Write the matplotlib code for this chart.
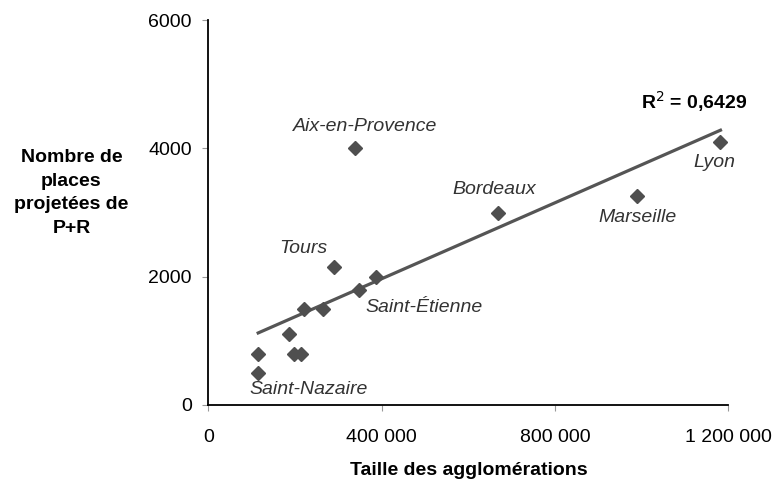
import numpy as np
import matplotlib
matplotlib.use('Agg')
import matplotlib.pyplot as plt
from matplotlib.ticker import FuncFormatter

plt.rcParams['font.family'] = ['Liberation Sans', 'DejaVu Sans']

# taille des agglomérations et places P+R projetées
agglo = [338000, 669000, 990000, 1182000, 290000, 388000, 347000, 265000,
         221000, 187000, 115000, 198000, 214000, 115000]
places = [4000, 3000, 3250, 4100, 2150, 2000, 1800, 1500,
          1500, 1100, 800, 800, 800, 500]

noms = ['Aix-en-Provence', 'Bordeaux', 'Marseille', 'Lyon', 'Tours',
        'Saint-Étienne', 'Saint-Nazaire']
noms_idx = [0, 1, 2, 3, 4, 6, 13]
# décalage des étiquettes (en unités des axes)
noms_dx = [25000, -10000, 0, -13000, -71000, 150000, 117000]
noms_dy = [348, 360, -333, -317, 290, -281, -255]

xticks = [0, 400000, 800000, 1200000]
yticks = [0, 2000, 4000, 6000]

fig = plt.figure(figsize=(7.76, 4.83), dpi=100)
ax = fig.add_axes([0.2685, 0.1615, 0.670, 0.797])

x = np.array(agglo)
y = np.array(places)
a, b = np.polyfit(x, y, 1)
xl = np.array([x.min(), x.max()])
ax.plot(xl, a * xl + b, color='#555555', lw=2.3, zorder=2)

ax.plot(x, y, 'D', color='#4f4f4f', ms=7.5, mec='#4f4f4f', zorder=3)

for i, nom in enumerate(noms):
    k = noms_idx[i]
    ax.text(x[k] + noms_dx[i], y[k] + noms_dy[i], nom, fontsize=14,
            style='italic', color='#333333', ha='center', va='center')

ax.text(1122000, 4724, 'R$^2$ = 0,6429', fontsize=14, fontweight='bold',
        ha='center', va='center')

ax.set_xlim(0, 1200000)
ax.set_ylim(0, 6000)
ax.set_xticks(xticks)
ax.set_yticks(yticks)
ax.xaxis.set_major_formatter(FuncFormatter(lambda v, p: f'{int(v):,}'.replace(',', ' ')))
ax.tick_params(labelsize=14, length=4, width=0.8, color='#999999')
ax.tick_params(axis='x', pad=13)
ax.tick_params(axis='y', pad=8)
for s in ['top', 'right']:
    ax.spines[s].set_visible(False)
for s in ['left', 'bottom']:
    ax.spines[s].set_linewidth(1.3)
ax.spines['bottom'].set_bounds(0, 1200000)

ax.set_xlabel('Taille des agglomérations', fontsize=14, fontweight='bold', labelpad=12)
fig.text(0.092, 0.60, 'Nombre de\nplaces\nprojetées de\nP+R', fontsize=14,
         fontweight='bold', ha='center', va='center', linespacing=1.5)

fig.savefig('out.png', dpi=100)
